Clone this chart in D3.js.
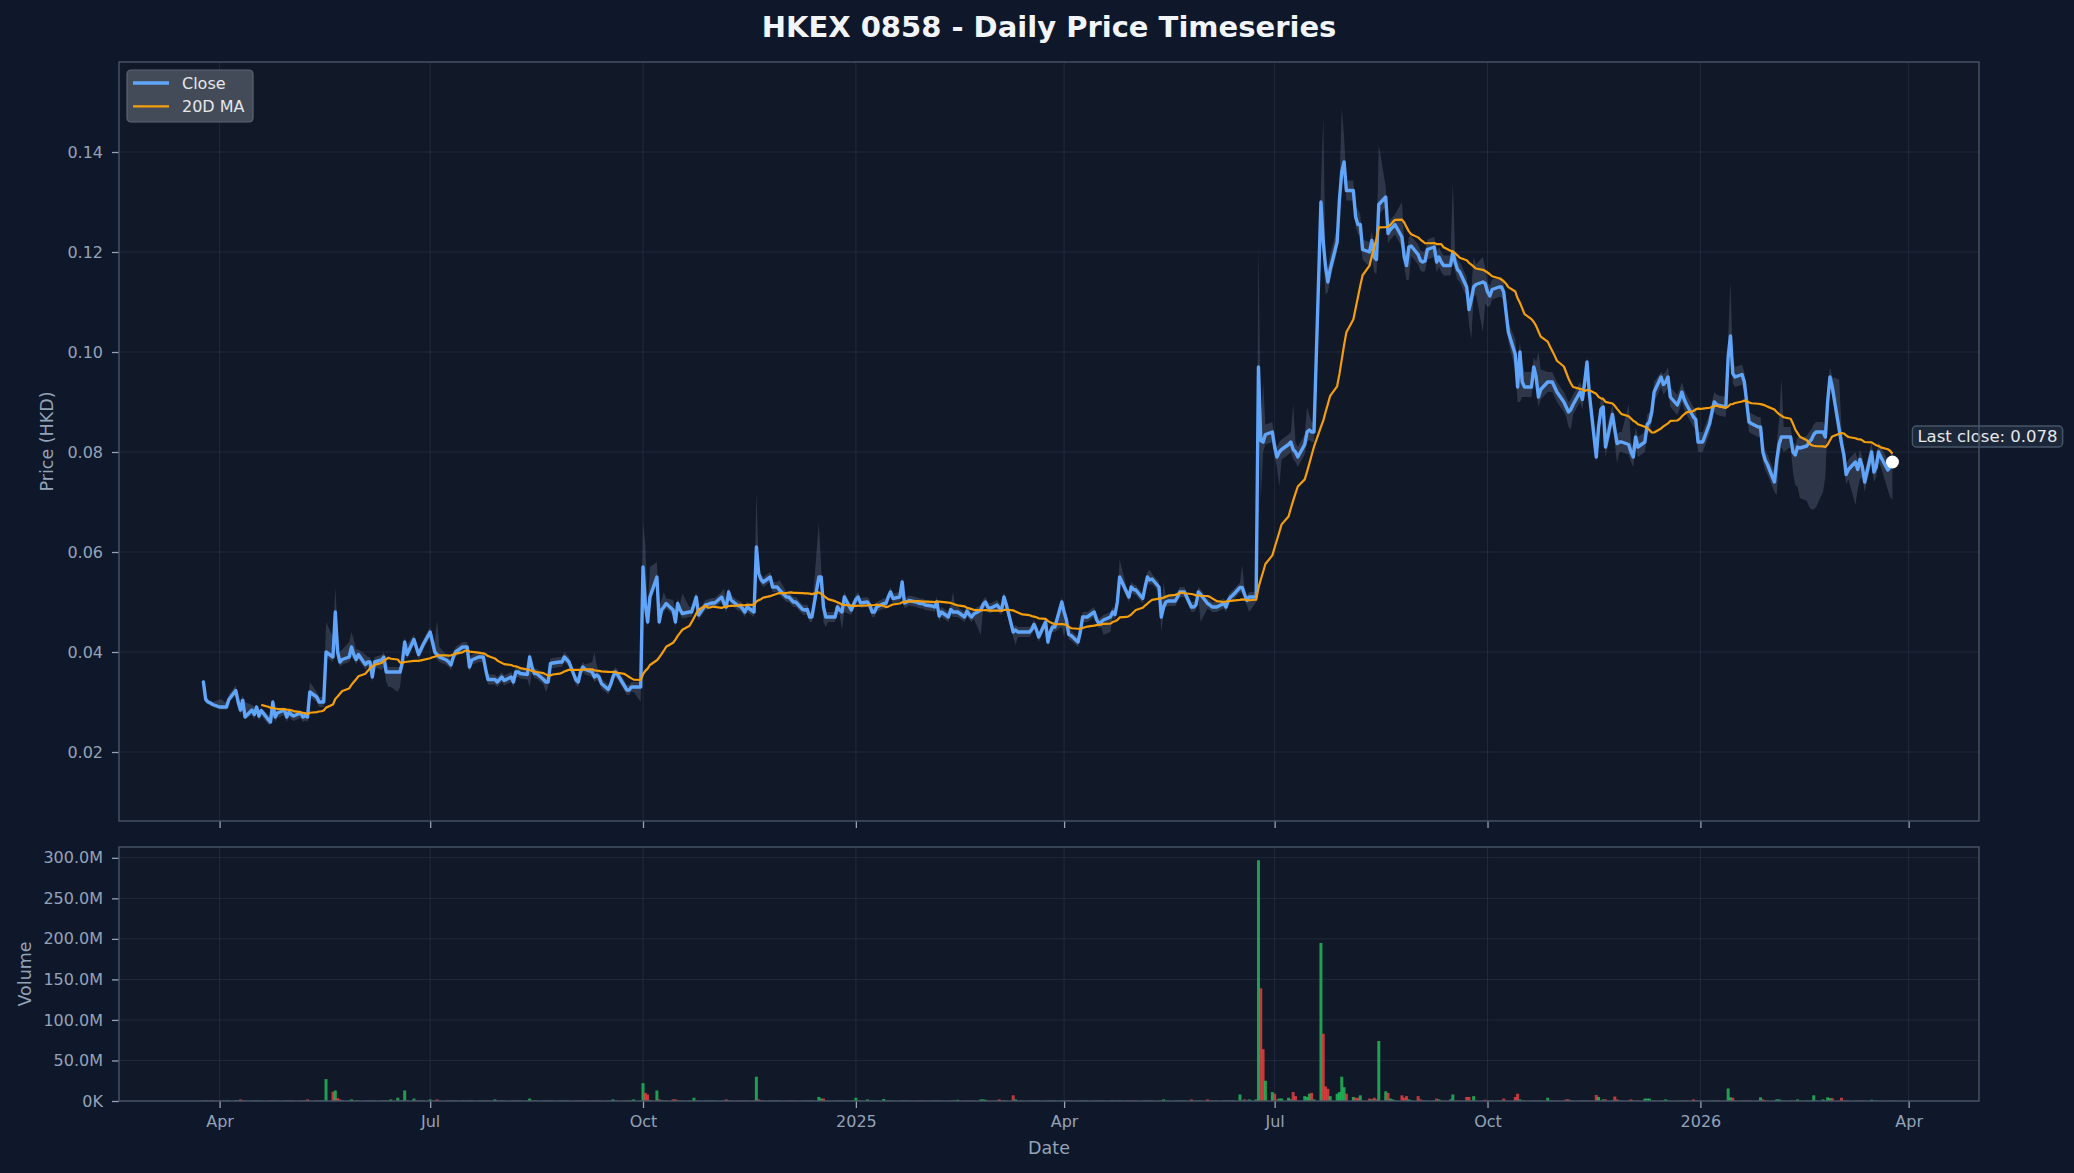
<!DOCTYPE html>
<html>
<head>
<meta charset="utf-8">
<script src="https://cdn.jsdelivr.net/npm/d3@7"></script>
<style>
html,body{margin:0;padding:0;background:#0f172a;}
svg{display:block;}
</style>
</head>
<body>
<svg id="chart" width="2074" height="1173"></svg>
<script>
// ---------------- DATA ----------------
const titleText = "HKEX 0858 - Daily Price Timeseries";
const startDate = "2024-03-25";           // first trading day shown (weekdays follow)

// Daily close, in thousandths of HKD, one row per week (Mon..Fri)
const closeWeeks = [
[34,30.5,30,29.8,29.5],[29,29,29,29,30.5],[32.3,30,28.4,30.3,27],[28.4,27.5,29,27.2,28.3],
[26.5,26,30,27,27.8],[28.4,27,28,27.5,27.2],[27.8,27,27.3,27,32],[31,30,30,30,40],
[39,48,40,38,38.5],[39,41,39.5,38.5,39.5],[37.5,38,38,35,38],[38.4,39,36,36,36],
[36,36,38,42,39.5],[42.5,41,39.5,40.5,41.5],[44,42,40,39.5,39],[38.4,38,37.4,39,40],
[41,41,41,37,38.4],[39,39,39,36.5,34.5],[34.5,34,34.5,35,34.3],[35,34,36,36,35.7],
[35.5,39,37,35.7,35.7],[34.5,34,34,37.7,37.8],[38,38,39,38.5,38],[34.4,34,36,37,36.5],
[36,35,35.4,35,33.7],[32.5,33.5,35,36,35.5],[33.2,32.4,32.4,33,33],[33,57,49.5,46,51],
[55,46,48.4,49,49.7],[48.4,46,49.7,48.5,47.7],[48,48,49.5,51,47.4],[49.4,49.5,49.7,49.8,49.8],
[51,49.7,49,52,50.4],[49.3,49.2,48.7,48,49],[48,61,55.7,54.5,54],[55,53,53,53,52.4],
[51,51,50.5,50,50],[48.5,48.4,48.5,47,47],[55,55,49,47,47],[47,49,48.4,48,51],
[48.4,49.5,50.5,51,49.8],[50,49.4,48,48,49],[49.7,49.7,51,52,50.7],[51,54,49.8,50,50.3],
[50,49.8,49.7,49.7,49.4],[49.2,49,50,47.2,48],[47,48.5,48,48,48],[47,48.2,47.5,47,47.6],
[48.4,49.5,50,49,48.7],[49.4,48.8,48.4,51,49.5],[44,44.4,44,44,44],[44,44.5,45.5,44.5,43],
[46,42,44,45,45],[50,48,46.4,43.5,43.3],[42,44,47,47,47],[48,46.5,45.7,46,46.4],
[47,48,47.5,50,55],[52,51,53,52.5,52.4],[50.7,53,55,54.4,54.6],[53,47,49,50,50.2],
[50.2,51,52,52,52],[49,49,49.4,52,51.5],[49.7,49.4,49,49,49],[49.7,49,50.4,51,51.4],
[52.9,52.9,51.5,50.3,51],[51,97,82.3,82,83.5],[84,81,79,80,80.5],[81.5,82,80.5,80,79],
[81.5,84,84.4,84,84],[130,122,117,114,116.5],[122,130.5,136,138,132.3],[132.3,127,125.5,125.5,120.5],
[120,122.3,119,118.5,129.5],[131,123.7,124.5,125,125.5],[123,119,117.3,121,121.2],[119.5,118.3,118,118.2,120.5],
[121,118,119,118,117.3],[117.3,120,118,116.5,116],[113,108.5,110.5,113,113.5],[114,113.7,112,111.2,112.5],
[113,113,112,108,104],[99.5,93,100,94,93],[93,97,95,91,92.5],[94,94,94,93,92],
[90,89,88,88.5,89.5],[92,90.5,94,98,91.7],[79,85,88.5,89,81],[87.5,84.5,81.7,82,82],
[81.5,80,79,83,81],[82,85.5,86,88,92],[95,93.5,94,95,91],[89.4,90.5,92,90.5,89.5],
[87,86.5,82,82,82],[85.7,88,90,89.5,89.3],[89,99,103.2,95.7,95],[95.5,94,90,86,85.7],
[85,85,80,78.4,77.5],[74,78.4,81.5,83,83],[83,80,79.4,81,80.8],[81.2,82,82.5,83.5,84],
[84,83,90,95,93],[84.5,81.7,79.5,75.5,76.5],[78,76.5,78.5,77,74],[80,76,77,80,79],
[76.4,77,78]
];

// Daily high above close (thousandths of HKD)
const highOffWeeks = [
[0,1,0.5,0.5,0.5],[1.5,1.5,1,1,1],[1,1,2,1,3],[1,1.5,0.5,1,0.5],[1,1,0.5,1,1],
[0.5,1,0.5,1,1],[0.5,1,0.5,1,2],[1,1,1,1,6],[4,5,5,2,2],[3,3,3,2,1],
[2,1,1,2,1],[1,1,2,1,1],[1,1,1,1,2],[1,1,1,1,1],[1,1,2,7,2],
[1,1,1,1,1],[1,1,1,2,1],[1,1,1,1,1],[1,1,1,1,1],[1,1,1,1,1],
[1,1,1,1,1],[1,1,1,1,1],[1,1,1,1,1],[1,1,1,1,1],[2,5,2,1,1],
[1,1,1,1,1],[1,1,1,1,1],[1,9,12,3,6],[3,3,2,3,1],[2,2,1,1,4],
[1,1,1,1,1],[1,1,1,1,1],[1,3,1,1,1],[1,1,1,1,1],[1,11,2,1,1],
[1,1,1,1,2],[1,1,1,1,1],[1,1,1,1,1],[11,2,1,1,1],[1,1,1,1,1],
[1,1,1,1,1],[1,1,1,1,1],[1,1,1,1,1],[1,1,1,1,1],[1,1,1,1,1],
[1,1,1,1,1],[1,1,4,1,1],[1,1,1,1,1],[1,1,1,1,1],[1,1,1,1,1],
[1,1,1,1,1],[1,1,1,1,1],[1,1,1,1,1],[1,1,1,1,1],[1,1,1,1,1],
[1,1,1,1,1],[1,1,1,1,3.5],[1,1,1,1,1],[1,1,1,2,1],[1,1,5,1,1],
[1,1,1,1,1],[1,1,1,1,1],[1,1,1,1,1],[1,1,1,1,1],[1,4.5,1,1,1],
[1,25,1,12,2],[2,2,2,2,2],[2,2,9,2,2],[2,5,3,2,2],[3,25,2,3,3],
[3,3,12.7,5,2],[2,2,3,2,2],[2,2,2,2,12],[2,2,2,2,2],[7,3,2,2,2],
[2,2,2,2,2],[2,2,2,2,2],[2,14,2,2,2],[2,2,2,6,4],[5,3,2,2,2],
[2,2,2,2,2],[3,5,2,4,3],[3,2,3,9,4],[2,2,2,2,2],[2,2,2,2,2],
[2,2,2,1,2],[2,2,2,2,3],[2,2,2,2,2],[8,2,2,2,2],[2,2,2,2,2],
[1,2,2,2,2],[2,2,2,2,2],[2,2,2,2,2],[2,2,2,2,2],[2,4,11,3,2],
[2,2,2,2,2],[2,2,2,2,2],[2,3,5,11.7,2],[2,2,2,2,2],[2,2,2,2,2],
[2,2,2,2,2],[10,3,2,2,2],[2,2,2,2,2],[2,2,2,2,2],[2,2,2]
];

// Daily low below close (thousandths of HKD)
const lowOffWeeks = [
[0,0.5,0.5,0.5,0.5],[0.5,0.5,0.5,0.5,0.5],[1,1,1,1,0.5],[1,1,1,1,1],[1,0.5,1,1,1],
[1,1,1,1,1],[1,1,1,1,1],[1,1,1,1,1],[1,3,1,1,1],[1,2,1,1,1],
[1,1,2,1,1],[2,2,2,3,3],[4,3,1,1,1],[1,1,1,1,1],[1,1,1,1,1],
[1,1,1,1,1],[1,1,1,1,1],[1,1,1,1,1],[1,1,1,1,1],[1,1,1,1,1],
[1,6,1,1,1],[1,2,1,1,1],[1,1,1,1,1],[1,1,1,1,1],[1,1,1,1,1],
[1,1,1,1,1],[1,1,1,1,1],[3,1,1,1,1],[1,1,1,1,1],[1,1,1,1,1],
[1,1,1,1,1],[1,1,1,1,1],[1,1,1,1,1],[1,1,1,1,1],[1,1,1,1,1],
[1,1,1,1,1],[1,1,1,1,1],[1,1,1,1,1],[1,1,3,2,1],[1,1,1,3.5,3],
[1,1,1,1,1],[1,1,1,1,1],[1,1,1,1,1],[1,1,1,1,1],[1,1,1,1,1],
[1,1,1,1,1],[1,1,1,1,1],[1,1,1,1,1],[5,1,1,1,1],[1,1,1,1,1],
[1,3,1,1,1],[1,1,1,1,1],[1,1,1,1,1],[5,5,1,1,1],[1,1,1,1,1],
[1,1,1,1,3],[3,1,1,1,1],[1,1,1,1,1],[1,1,1,1,1],[1,3,1,1,1],
[1,1,1,1,1],[1,1,1,1,5.5],[1,1,1,1,1],[1,1,1,1,1],[1,1,1,1,3],
[1,1,12,2,2],[2,2,2,7,2],[2,2,2,2,2],[2,2,2,2,2],[2,2,5.5,2,2],
[2,2,2,2,2],[2,2,2,2,2],[3,3,3,3,2],[2,2,2,2,2],[2,2,3,6.5,2],
[2,2,2,2,2],[2,2,2,2,2],[2,2,2,2,2],[2,3,8,2,2],[10,4,3,2,2],
[2,2,2,2,2],[3,3,10,3,2],[2,2,2,2,2],[2,2,2,2,2],[2,2,3,4,2],
[2,2,2,2,2],[1,2,2,2,2],[2,3,4,2,2],[2,2,2,2,2],[2,2,2,2,2],
[2,2,2,2,2],[2,2,2,2,2],[2,2,2,2,2],[2,2,2,2,2],[2,2,2,2,2],
[2,2,2,2,2],[2,2,2,2,2],[2,7,3,2,3],[2,4,6,8,10],[11,13,14,15,15],
[12,8,4,2,2],[2,2,2,2,2],[8.6,4,4,2,2],[2,2,2,2,2],[4,6,7.6]
];

// Daily volume in millions of shares
const volumeWeeks = [
[0.3,0.5,0.4,0.3,0.6],[0.4,0.3,0.5,0.4,0.6],[0.8,0.5,2,0.4,0.6],[0.5,0.4,0.6,0.3,0.5],[0.4,0.7,0.5,0.3,0.4],
[0.3,0.5,0.4,0.6,0.4],[0.5,0.4,0.6,2,0.5],[0.8,0.4,0.5,0.6,27],[11.5,13,3.5,2,0.8],[0.6,2,0.5,0.4,0.6],
[0.4,0.5,0.3,0.6,0.4],[0.5,0.4,0.6,0.5,2],[4,0.6,0.8,13,0.5],[3,0.6,0.4,0.5,0.4],[2,0.5,0.6,2,0.4],
[0.3,0.5,0.4,0.6,0.4],[0.5,0.3,0.4,0.6,0.5],[0.4,0.3,0.5,0.4,0.6],[2,0.4,0.3,0.5,0.4],[0.3,0.4,0.5,0.3,0.4],
[0.5,3,0.4,0.3,0.5],[0.3,0.4,0.5,0.3,0.4],[0.4,0.3,0.5,0.4,0.3],[0.5,0.4,0.3,0.4,0.5],[0.4,0.6,0.3,0.4,0.3],
[0.3,0.4,2,0.5,0.4],[0.3,0.5,0.4,0.6,2],[0.5,22,10,8,1],[13,2,0.8,0.6,0.5],[2,2,0.6,0.5,0.4],
[0.5,0.4,4,0.6,0.5],[0.4,0.5,0.3,0.4,0.5],[0.4,0.5,2,0.6,0.4],[0.3,0.5,0.4,0.3,0.4],[0.5,30,2,0.6,0.4],
[0.5,0.4,0.3,0.5,0.4],[0.3,0.4,0.5,0.4,0.3],[0.4,0.3,0.5,0.4,0.6],[5,3,3,0.6,0.4],[0.3,0.4,0.5,0.3,0.4],
[0.5,0.6,4,0.8,0.4],[2,0.4,0.5,0.3,0.4],[2.5,0.5,0.4,0.3,0.5],[0.4,0.6,0.3,0.4,0.3],[0.3,0.4,0.5,0.3,0.4],
[0.4,0.3,0.5,0.4,0.3],[0.3,0.4,0.5,0.4,1.5],[0.4,0.3,0.5,0.3,0.4],[2,2,1.5,0.4,0.3],[0.5,2,0.4,0.6,0.5],
[7,2,0.5,0.4,0.3],[0.4,0.3,0.5,0.4,0.3],[0.3,0.4,0.3,0.5,0.4],[0.5,0.4,0.3,0.4,0.3],[0.4,0.3,0.5,0.4,0.3],
[0.3,0.4,0.3,0.5,0.4],[0.4,0.5,0.3,0.4,0.6],[0.5,0.4,0.3,0.5,0.4],[0.3,0.4,0.5,0.4,0.3],[0.4,0.5,2,0.4,0.3],
[0.4,0.5,0.3,0.4,0.5],[2,0.4,0.3,0.5,0.4],[2,0.4,0.5,0.3,0.4],[0.5,0.4,0.6,0.5,0.7],[8,0.6,2,0.5,2],
[2,297,139,64,25],[11,9,2,3,3],[4,2,11,6,0.8],[6,5,9,10,2],[195,83,18,15,6],
[9,11,30,17,9],[5,4,4,7,0.8],[3,2,4,2,74],[12,10,3,2,0.8],[7,4,6,2,0.6],
[6,2,0.8,0.6,0.5],[0.6,3,2,0.5,0.4],[2,8,0.6,0.5,0.4],[5,5,0.6,6,0.5],[0.4,1.5,0.5,0.4,0.3],
[0.4,0.5,3,0.4,0.3],[5,9,2,0.4,0.5],[0.4,0.3,0.5,0.4,0.6],[4,0.5,0.4,0.3,0.5],[0.4,2,2,0.5,0.4],
[0.3,0.4,0.5,0.4,0.3],[7.5,5,0.5,2,2],[0.6,5.5,2,0.5,0.4],[0.5,2,0.4,0.3,0.5],[3,3,3,0.5,0.4],
[0.5,0.4,2,0.5,0.4],[0.3,0.4,0.5,0.3,0.4],[2,0.4,0.5,0.3,0.4],[0.3,0.4,0.5,0.3,0.4],[0.5,15.5,4.5,4,0.6],
[0.5,0.4,0.6,0.5,0.4],[0.5,4.5,2,0.4,0.5],[0.4,2,2,0.5,0.4],[0.5,0.4,0.6,2,0.4],[0.5,0.4,0.6,7,0.5],
[2,0.5,4.5,3.5,3.5],[0.5,4,0.6,0.5,0.4],[0.3,0.4,0.5,0.3,0.4],[1.5,0.3,0.4,0.3,0.2],[0.3,0.2,0.3]
];

const priceDomain = [0.0062, 0.158];
const dateDomain = ["2024-02-17T12:30:00Z", "2026-05-01T10:00:00Z"];
const priceTicks = [0.02, 0.04, 0.06, 0.08, 0.10, 0.12, 0.14];
const volumeTicksM = [0, 50, 100, 150, 200, 250, 300];
const xTickDates = ["2024-04-01","2024-07-01","2024-10-01","2025-01-01","2025-04-01","2025-07-01","2025-10-01","2026-01-01","2026-04-01"];
const xTickLabels = ["Apr","Jul","Oct","2025","Apr","Jul","Oct","2026","Apr"];
const legendLabels = ["Close", "20D MA"];
const maWindow = 20;

// ---------------- BUILD ----------------
const closeMilli = closeWeeks.flat();
const highOffMilli = highOffWeeks.flat();
const lowOffMilli = lowOffWeeks.flat();
const volumeM = volumeWeeks.flat();

const W = 2074, H = 1173;
const L = 119, R = 1979, PT = 62, PB = 821, VT = 847, VB = 1101;
const FONT = "DejaVu Sans, Liberation Sans, sans-serif";
const COL = {fig:"#0f172a", ax:"#111827", grid:"#334155", spine:"#485569", tick:"#94a3b8",
             close:"#60a5fa", ma:"#f59e0b", band:"#64748b", up:"#22c55e", down:"#ef4444"};

const parse = d3.utcParse("%Y-%m-%d");
const n = Math.min(closeMilli.length, highOffMilli.length, lowOffMilli.length, volumeM.length);
const dates = [];
let cur = parse(startDate);
while (dates.length < n) {
  const wd = cur.getUTCDay();
  if (wd !== 0 && wd !== 6) dates.push(cur);
  cur = d3.utcDay.offset(cur, 1);
}
const rows = d3.range(n).map(i => ({
  date: dates[i],
  close: closeMilli[i] / 1000,
  high: (closeMilli[i] + highOffMilli[i]) / 1000,
  low: (closeMilli[i] - lowOffMilli[i]) / 1000,
  vol: volumeM[i] * 1e6
}));
rows.forEach((r, i) => {
  r.ma = i >= maWindow - 1 ? d3.mean(rows.slice(i - maWindow + 1, i + 1), d => d.close) : null;
  r.up = i === 0 ? true : r.close >= rows[i - 1].close;
});

const x = d3.scaleUtc().domain(dateDomain.map(s => new Date(s))).range([L, R]);
const yP = d3.scaleLinear().domain(priceDomain).range([PB, PT]);
const yV = d3.scaleLinear().domain([0, d3.max(rows, d => d.vol) * 1.055]).range([VB, VT]);

const svg = d3.select("#chart");
svg.append("rect").attr("width", W).attr("height", H).attr("fill", COL.fig);

const defs = svg.append("defs");
defs.append("clipPath").attr("id", "clipP").append("rect").attr("x", L).attr("y", PT).attr("width", R - L).attr("height", PB - PT);
defs.append("clipPath").attr("id", "clipV").append("rect").attr("x", L).attr("y", VT).attr("width", R - L).attr("height", VB - VT);

// axes backgrounds
svg.append("rect").attr("x", L).attr("y", PT).attr("width", R - L).attr("height", PB - PT).attr("fill", COL.ax);
svg.append("rect").attr("x", L).attr("y", VT).attr("width", R - L).attr("height", VB - VT).attr("fill", COL.ax);

const xTicks = xTickDates.map(parse);

// grids
function grid(top, bottom, yScale, yVals) {
  const g = svg.append("g").attr("stroke", COL.grid).attr("stroke-opacity", 0.45).attr("stroke-width", 1);
  g.selectAll("line.v").data(xTicks).join("line")
    .attr("x1", d => x(d)).attr("x2", d => x(d)).attr("y1", top).attr("y2", bottom);
  g.selectAll("line.h").data(yVals).join("line")
    .attr("x1", L).attr("x2", R).attr("y1", d => yScale(d)).attr("y2", d => yScale(d));
}
grid(PT, PB, yP, priceTicks);
grid(VT, VB, yV, volumeTicksM.map(v => v * 1e6));

// price panel
const gP = svg.append("g").attr("clip-path", "url(#clipP)");
gP.append("path").datum(rows)
  .attr("d", d3.area().x(d => x(d.date)).y0(d => yP(d.low)).y1(d => yP(d.high)))
  .attr("fill", COL.band).attr("fill-opacity", 0.35);
gP.append("path").datum(rows)
  .attr("d", d3.line().x(d => x(d.date)).y(d => yP(d.close)))
  .attr("fill", "none").attr("stroke", COL.close).attr("stroke-width", 3.4)
  .attr("stroke-linejoin", "round").attr("stroke-linecap", "round");
gP.append("path").datum(rows)
  .attr("d", d3.line().defined(d => d.ma != null).x(d => x(d.date)).y(d => yP(d.ma)))
  .attr("fill", "none").attr("stroke", COL.ma).attr("stroke-width", 2.2)
  .attr("stroke-linejoin", "round");

const last = rows[n - 1];
const lx = x(last.date), ly = yP(last.close);
svg.append("circle").attr("cx", lx).attr("cy", ly).attr("r", 6.5).attr("fill", "#ffffff");

// annotation
const ann = svg.append("g");
const annRect = ann.append("rect");
const annText = ann.append("text")
  .attr("x", lx + 25).attr("y", ly - 20)
  .attr("font-family", FONT).attr("font-size", 16.5).attr("fill", "#e5e7eb")
  .text("Last close: " + last.close.toFixed(3));
const bb = annText.node().getBBox();
annRect.attr("x", bb.x - 5).attr("y", bb.y - 1).attr("width", bb.width + 10).attr("height", bb.height + 2)
  .attr("rx", 4).attr("fill", "#1e293b").attr("fill-opacity", 0.9)
  .attr("stroke", "#475569").attr("stroke-width", 1.5);

// volume bars
const barW = x(d3.utcHour.offset(rows[0].date, 31)) - x(rows[0].date);
svg.append("g").attr("clip-path", "url(#clipV)")
  .selectAll("rect").data(rows).join("rect")
  .attr("x", d => x(d.date) - barW / 2)
  .attr("width", barW)
  .attr("y", d => yV(d.vol))
  .attr("height", d => VB - yV(d.vol))
  .attr("fill", d => d.up ? COL.up : COL.down)
  .attr("fill-opacity", 0.78);

// axes
function styleAxis(g) {
  g.select(".domain").remove();
  g.selectAll(".tick line").attr("stroke", COL.tick).attr("stroke-width", 1.3);
  g.selectAll(".tick text").attr("fill", COL.tick).attr("font-size", 16).attr("font-family", FONT);
}
svg.append("g").attr("transform", `translate(${L},0)`)
  .call(d3.axisLeft(yP).tickValues(priceTicks).tickFormat(d3.format(".2f")).tickSize(7).tickPadding(9))
  .call(styleAxis);
const volFmt = v => v >= 1e6 ? (v / 1e6).toFixed(1) + "M" : (v / 1e3).toFixed(0) + "K";
svg.append("g").attr("transform", `translate(${L},0)`)
  .call(d3.axisLeft(yV).tickValues(volumeTicksM.map(v => v * 1e6)).tickFormat(volFmt).tickSize(7).tickPadding(9))
  .call(styleAxis);
svg.append("g").attr("transform", `translate(0,${PB})`)
  .call(d3.axisBottom(x).tickValues(xTicks).tickFormat("").tickSize(7))
  .call(styleAxis);
svg.append("g").attr("transform", `translate(0,${VB})`)
  .call(d3.axisBottom(x).tickValues(xTicks).tickFormat((d, i) => xTickLabels[i]).tickSize(7).tickPadding(8))
  .call(styleAxis);

// spines
[[PT, PB], [VT, VB]].forEach(([t, b]) => {
  svg.append("rect").attr("x", L).attr("y", t).attr("width", R - L).attr("height", b - t)
    .attr("fill", "none").attr("stroke", COL.spine).attr("stroke-width", 1.4);
});

// labels
svg.append("text").attr("x", (L + R) / 2).attr("y", 37).attr("text-anchor", "middle")
  .attr("font-family", FONT).attr("font-weight", "bold").attr("font-size", 29).attr("fill", "#f1f5f9")
  .text(titleText);
svg.append("text").attr("x", (L + R) / 2).attr("y", 1154).attr("text-anchor", "middle")
  .attr("font-family", FONT).attr("font-size", 17.5).attr("fill", COL.tick).text("Date");
svg.append("text").attr("transform", `translate(53,${(PT + PB) / 2}) rotate(-90)`).attr("text-anchor", "middle")
  .attr("font-family", FONT).attr("font-size", 17.5).attr("fill", COL.tick).text("Price (HKD)");
svg.append("text").attr("transform", `translate(31,${(VT + VB) / 2}) rotate(-90)`).attr("text-anchor", "middle")
  .attr("font-family", FONT).attr("font-size", 17.5).attr("fill", COL.tick).text("Volume");

// legend
const lg = svg.append("g");
lg.append("rect").attr("x", 127).attr("y", 70).attr("width", 126).attr("height", 52).attr("rx", 4)
  .attr("fill", "#434b59").attr("stroke", "#5d6675").attr("stroke-width", 1.2);
const legendStyles = [{c: COL.close, w: 3.4}, {c: COL.ma, w: 2.2}];
legendLabels.forEach((lab, i) => {
  const yy = 83 + i * 23.3;
  lg.append("line").attr("x1", 133).attr("x2", 169).attr("y1", yy).attr("y2", yy)
    .attr("stroke", legendStyles[i].c).attr("stroke-width", legendStyles[i].w);
  lg.append("text").attr("x", 182).attr("y", yy + 6).attr("font-family", FONT).attr("font-size", 16)
    .attr("fill", "#e5e7eb").text(lab);
});
</script>
</body>
</html>
